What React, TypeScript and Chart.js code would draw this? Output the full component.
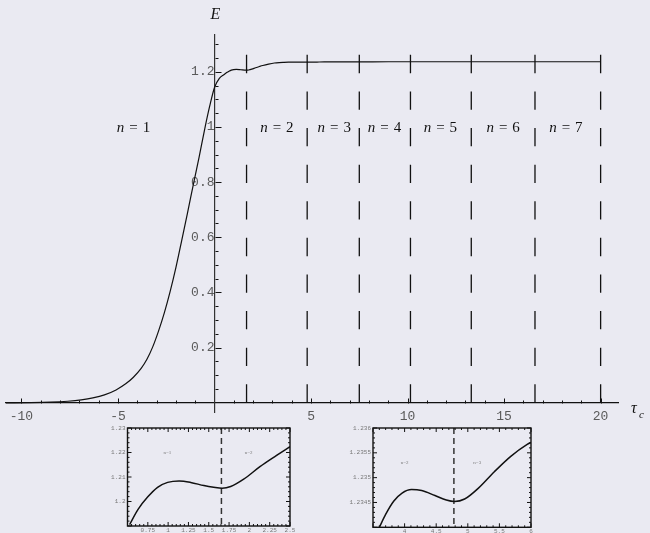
import React, { useEffect, useRef } from "react";
import { Chart, registerables } from "chart.js";

Chart.register(...registerables);

const BG = "#EAEAF2";
const INK = "#111111";
const TICK_GREY = "#5a5a5a";

// ---------- main plot data ----------
const mainTau = [
  -10.8, -9.5, -8.5, -7.6, -6.9, -6.3, -5.7, -5.1, -4.6, -4.2, -3.8, -3.5, -3.2,
  -2.9, -2.6, -2.3, -2.0, -1.7, -1.4, -1.1, -0.8, -0.5, -0.25, 0, 0.25, 0.5,
  0.63, 0.75, 0.87, 0.99, 1.13, 1.28, 1.44, 1.56, 1.66, 1.77, 1.93, 2.13, 2.33, 2.5,
  2.8, 3.1, 3.35, 3.6, 3.83, 4.11, 4.48, 4.79, 5.16, 5.42, 5.68, 5.94, 7, 9, 12, 16, 20,
];
const mainEnergy = [
  0, 0.0008, 0.0025, 0.006, 0.011, 0.018, 0.029, 0.047, 0.069, 0.093, 0.125, 0.158, 0.203,
  0.26, 0.326, 0.403, 0.49, 0.588, 0.688, 0.79, 0.89, 0.995, 1.075, 1.143, 1.176, 1.19,
  1.1968, 1.2019, 1.2058, 1.2078, 1.2084, 1.2078, 1.2065, 1.2058, 1.2054, 1.2061, 1.2091, 1.2142, 1.2188, 1.2224,
  1.2275, 1.2315, 1.2332, 1.234, 1.2345, 1.2348, 1.2346, 1.2345, 1.2348, 1.2351, 1.2354, 1.2357, 1.2359, 1.236, 1.236, 1.236, 1.236,
];
const boundaryTau = [1.66, 4.8, 7.5, 10.15, 13.3, 16.6, 20];
const boundaryTopE = 1.261;
const regionNumbers = ["1", "2", "3", "4", "5", "6", "7"];
const regionLabelTau = [-4.2, 3.23, 6.2, 8.8, 11.7, 14.95, 18.2];
const regionLabelE = 1.0;
const mainXTicks = [-10, -5, 5, 10, 15, 20];
const mainYTicks = [0.2, 0.4, 0.6, 0.8, 1, 1.2];

// ---------- left inset data ----------
const insetATau = [0.526, 0.63, 0.75, 0.87, 0.994, 1.135, 1.278, 1.44, 1.56, 1.665, 1.77, 1.93, 2.13, 2.335, 2.5];
const insetAEnergy = [1.1906, 1.1968, 1.2019, 1.2058, 1.2078, 1.2084, 1.2078, 1.2065, 1.2058, 1.2054, 1.2061, 1.2091, 1.2142, 1.2188, 1.2224];
const insetAXTicks = [0.75, 1, 1.25, 1.5, 1.75, 2, 2.25, 2.5];
const insetAYTicks = [1.2, 1.21, 1.22, 1.23];
const insetABoundary = 1.656;
const insetALabels = ["n=1", "n=2"];
const insetALabelTau = [0.99, 1.99];
const insetALabelE = 1.22;

// ---------- right inset data ----------
const insetBTau = [3.59, 3.7, 3.83, 3.96, 4.11, 4.27, 4.48, 4.66, 4.79, 4.95, 5.16, 5.42, 5.68, 5.94, 6.0];
const insetBEnergy = [1.23397, 1.23426, 1.23453, 1.23469, 1.23476, 1.23474, 1.23464, 1.23455, 1.23452, 1.23457, 1.23478, 1.23512, 1.23543, 1.23567, 1.23571];
const insetBXTicks = [4, 4.5, 5, 5.5, 6];
const insetBYTicks = [1.2345, 1.235, 1.2355, 1.236];
const insetBBoundary = 4.78;
const insetBLabels = ["n=2", "n=3"];
const insetBLabelTau = [4.0, 5.15];
const insetBLabelE = 1.2353;

function pts(xs: number[], ys: number[]) {
  return xs.map((x, i) => ({ x, y: ys[i] }));
}

function line(ctx: CanvasRenderingContext2D, x1: number, y1: number, x2: number, y2: number) {
  ctx.beginPath();
  ctx.moveTo(x1, y1);
  ctx.lineTo(x2, y2);
  ctx.stroke();
}

const mainDecor = {
  id: "mainDecor",
  afterDraw(chart: any) {
    const { ctx, scales } = chart;
    const xs = scales.x;
    const ys = scales.y;
    const x0 = Math.round(xs.getPixelForValue(0)) + 0.5;
    const y0 = Math.round(ys.getPixelForValue(0)) + 0.5;
    ctx.save();
    ctx.strokeStyle = INK;
    ctx.lineWidth = 1;
    for (let v = -10; v <= 20; v += 1) {
      if (v === 0) continue;
      const px = Math.round(xs.getPixelForValue(v)) + 0.5;
      const len = v % 5 === 0 ? 5 : 3;
      line(ctx, px, y0, px, y0 - len);
    }
    for (let i = 1; i <= 26; i++) {
      const py = Math.round(ys.getPixelForValue(i * 0.05)) + 0.5;
      const len = i % 4 === 0 ? 6 : 3;
      line(ctx, x0, py, x0 + len, py);
    }
    // axis titles
    ctx.fillStyle = INK;
    ctx.font = 'italic 16px "Liberation Serif"';
    ctx.textAlign = "center";
    ctx.textBaseline = "alphabetic";
    ctx.fillText("E", x0, 19);
    ctx.textAlign = "left";
    ctx.fillText("\u03C4", 631, 413);
    ctx.font = 'italic 11px "Liberation Serif"';
    ctx.fillText("c", 639, 418);
    ctx.restore();
  },
  afterDatasetsDraw(chart: any) {
    const { ctx, scales } = chart;
    ctx.save();
    ctx.fillStyle = INK;
    ctx.textBaseline = "alphabetic";
    ctx.textAlign = "left";
    const gap = 5;
    regionNumbers.forEach((num, i) => {
      const cx = scales.x.getPixelForValue(regionLabelTau[i]);
      const by = scales.y.getPixelForValue(regionLabelE) + 5;
      ctx.font = 'italic 15px "Liberation Serif"';
      const wn = ctx.measureText("n").width;
      ctx.font = '15px "Liberation Serif"';
      const we = ctx.measureText("=").width;
      const wd = ctx.measureText(num).width;
      const total = wn + gap + we + gap + wd;
      let x = cx - total / 2;
      ctx.font = 'italic 15px "Liberation Serif"';
      ctx.fillText("n", x, by);
      x += wn + gap;
      ctx.font = '15px "Liberation Serif"';
      ctx.fillText("=", x, by);
      x += we + gap;
      ctx.fillText(num, x, by);
    });
    ctx.restore();
  },
};

function makeInsetDecor(opts: {
  xMin: number; xMax: number; xMinor: number; xMajor: number;
  yMin: number; yMax: number; yMinor: number; yMajor: number;
  labels: string[]; labelTau: number[]; labelE: number;
}) {
  return {
    id: "insetDecor",
    afterDraw(chart: any) {
      const { ctx, chartArea, scales } = chart;
      const { left, right, top, bottom } = chartArea;
      ctx.save();
      ctx.strokeStyle = INK;
      ctx.lineWidth = 1.4;
      ctx.strokeRect(left, top, right - left, bottom - top);
      ctx.lineWidth = 1;
      const nx = Math.round((opts.xMax - opts.xMin) / opts.xMinor);
      for (let i = 0; i <= nx; i++) {
        const v = opts.xMin + i * opts.xMinor;
        const px = scales.x.getPixelForValue(v);
        const r = v / opts.xMajor;
        const len = Math.abs(r - Math.round(r)) < 1e-6 ? 4 : 2;
        line(ctx, px, bottom, px, bottom - len);
        line(ctx, px, top, px, top + len);
      }
      const ny = Math.round((opts.yMax - opts.yMin) / opts.yMinor);
      for (let i = 0; i <= ny; i++) {
        const v = opts.yMin + i * opts.yMinor;
        const py = scales.y.getPixelForValue(v);
        const r = v / opts.yMajor;
        const len = Math.abs(r - Math.round(r)) < 1e-4 ? 4 : 2;
        line(ctx, left, py, left + len, py);
        line(ctx, right, py, right - len, py);
      }
      ctx.fillStyle = "#777";
      ctx.font = '5px "Liberation Serif"';
      ctx.textAlign = "center";
      ctx.textBaseline = "middle";
      opts.labels.forEach((t, i) => {
        ctx.fillText(t, scales.x.getPixelForValue(opts.labelTau[i]), scales.y.getPixelForValue(opts.labelE));
      });
      ctx.restore();
    },
  };
}

function insetConfig(p: {
  tau: number[]; energy: number[]; boundary: number;
  xMin: number; xMax: number; yMin: number; yMax: number;
  xTicks: number[]; yTicks: number[];
  leftW: number; bottomH: number; topPad: number; rightPad: number;
  decor: any;
}) {
  return {
    type: "scatter",
    data: {
      datasets: [
        {
          data: pts(p.tau, p.energy),
          showLine: true,
          borderColor: INK,
          borderWidth: 1.5,
          pointRadius: 0,
          cubicInterpolationMode: "monotone",
        },
        {
          data: [{ x: p.boundary, y: p.yMax }, { x: p.boundary, y: p.yMin }],
          showLine: true,
          borderColor: "#333",
          borderWidth: 1.5,
          borderDash: [6, 4],
          pointRadius: 0,
        },
      ],
    },
    options: {
      animation: false,
      responsive: false,
      devicePixelRatio: 1,
      events: [],
      layout: { padding: { top: p.topPad, right: p.rightPad, left: 0, bottom: 0 } },
      plugins: { legend: { display: false }, tooltip: { enabled: false } },
      scales: {
        x: {
          type: "linear",
          min: p.xMin,
          max: p.xMax,
          grid: { display: false, drawTicks: false },
          border: { display: false },
          afterBuildTicks: (s: any) => { s.ticks = p.xTicks.map((v) => ({ value: v })); },
          afterFit: (s: any) => { s.height = p.bottomH; },
          ticks: {
            callback: (v: any) => String(v),
            font: { family: "Liberation Mono", size: 6 },
            color: "#777",
            padding: 1,
            maxRotation: 0,
            autoSkip: false,
          },
        },
        y: {
          type: "linear",
          min: p.yMin,
          max: p.yMax,
          grid: { display: false, drawTicks: false },
          border: { display: false },
          afterBuildTicks: (s: any) => { s.ticks = p.yTicks.map((v) => ({ value: v })); },
          afterFit: (s: any) => { s.width = p.leftW; },
          ticks: {
            callback: (v: any) => String(v),
            font: { family: "Liberation Mono", size: 6 },
            color: "#777",
            padding: 2,
            autoSkip: false,
          },
        },
      },
    },
    plugins: [p.decor],
  };
}

export default function App() {
  const mainRef = useRef<HTMLCanvasElement>(null);
  const aRef = useRef<HTMLCanvasElement>(null);
  const bRef = useRef<HTMLCanvasElement>(null);

  useEffect(() => {
    const mainChart = new Chart(mainRef.current as HTMLCanvasElement, {
      type: "scatter",
      data: {
        datasets: [
          {
            data: pts(mainTau, mainEnergy),
            showLine: true,
            borderColor: INK,
            borderWidth: 1.2,
            pointRadius: 0,
            cubicInterpolationMode: "monotone",
          },
          ...boundaryTau.map((t) => ({
            data: [{ x: t, y: boundaryTopE }, { x: t, y: 0 }],
            showLine: true,
            borderColor: INK,
            borderWidth: 1.3,
            borderDash: [18.3, 18.3],
            pointRadius: 0,
          })),
        ],
      },
      options: {
        animation: false,
        responsive: false,
        devicePixelRatio: 1,
        events: [],
        layout: { padding: { left: 6, right: 32, top: 35, bottom: 18 } },
        plugins: { legend: { display: false }, tooltip: { enabled: false } },
        scales: {
          x: {
            type: "linear",
            position: { y: 0 },
            min: -10.8,
            max: 20.9,
            grid: { display: false, drawTicks: false },
            border: { display: true, color: INK, width: 1.2 },
            afterBuildTicks: (s: any) => { s.ticks = mainXTicks.map((v) => ({ value: v })); },
            ticks: {
              callback: (v: any) => String(v),
              font: { family: "Liberation Mono", size: 13 },
              color: TICK_GREY,
              padding: 6,
              maxRotation: 0,
              autoSkip: false,
            },
          },
          y: {
            type: "linear",
            position: { x: 0 },
            min: -0.033,
            max: 1.333,
            grid: { display: false, drawTicks: false },
            border: { display: true, color: "#333", width: 1.2 },
            afterBuildTicks: (s: any) => { s.ticks = mainYTicks.map((v) => ({ value: v })); },
            ticks: {
              callback: (v: any) => String(v),
              font: { family: "Liberation Mono", size: 13 },
              color: TICK_GREY,
              padding: 7,
              autoSkip: false,
            },
          },
        },
      } as any,
      plugins: [mainDecor],
    } as any);

    const aChart = new Chart(aRef.current as HTMLCanvasElement, insetConfig({
      tau: insetATau, energy: insetAEnergy, boundary: insetABoundary,
      xMin: 0.5, xMax: 2.5, yMin: 1.19, yMax: 1.23,
      xTicks: insetAXTicks, yTicks: insetAYTicks,
      leftW: 37.5, bottomH: 7, topPad: 8, rightPad: 10,
      decor: makeInsetDecor({
        xMin: 0.5, xMax: 2.5, xMinor: 0.05, xMajor: 0.25,
        yMin: 1.19, yMax: 1.23, yMinor: 0.002, yMajor: 0.01,
        labels: insetALabels, labelTau: insetALabelTau, labelE: insetALabelE,
      }),
    }) as any);

    const bChart = new Chart(bRef.current as HTMLCanvasElement, insetConfig({
      tau: insetBTau, energy: insetBEnergy, boundary: insetBBoundary,
      xMin: 3.5, xMax: 6, yMin: 1.234, yMax: 1.236,
      xTicks: insetBXTicks, yTicks: insetBYTicks,
      leftW: 38, bottomH: 5.7, topPad: 8, rightPad: 9,
      decor: makeInsetDecor({
        xMin: 3.5, xMax: 6, xMinor: 0.1, xMajor: 0.5,
        yMin: 1.234, yMax: 1.236, yMinor: 0.0001, yMajor: 0.0005,
        labels: insetBLabels, labelTau: insetBLabelTau, labelE: insetBLabelE,
      }),
    }) as any);

    return () => {
      mainChart.destroy();
      aChart.destroy();
      bChart.destroy();
    };
  }, []);

  return (
    <div style={{ position: "fixed", left: 0, top: 0, width: 650, height: 533, background: BG, overflow: "hidden" }}>
      <canvas ref={mainRef} width={650} height={430} style={{ position: "absolute", left: 0, top: 0 }} />
      <canvas ref={aRef} width={210} height={113} style={{ position: "absolute", left: 90, top: 420 }} />
      <canvas ref={bRef} width={205} height={113} style={{ position: "absolute", left: 335, top: 420 }} />
    </div>
  );
}
